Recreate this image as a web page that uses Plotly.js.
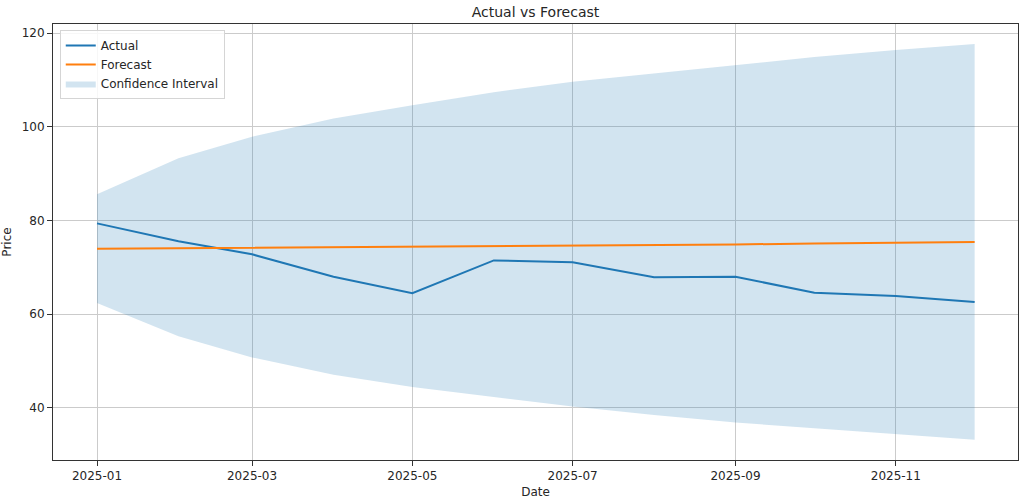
<!DOCTYPE html>
<html>
<head>
<meta charset="utf-8">
<script src="https://cdn.plot.ly/plotly-3.0.1.min.js"></script>
<style>
  html, body { margin: 0; padding: 0; background: #ffffff; }
  #chart { width: 1022px; height: 500px; }
</style>
</head>
<body>
<div id="chart"></div>
<script>
// ---- Data ----
const dates = ['2025-01-01','2025-02-01','2025-03-01','2025-04-01','2025-05-01','2025-06-01',
               '2025-07-01','2025-08-01','2025-09-01','2025-10-01','2025-11-01','2025-12-01'];
const actual   = [79.4, 75.6, 72.8, 68.0, 64.5, 71.5, 71.1, 67.9, 68.0, 64.6, 63.9, 62.6];
const forecast = [74.0, 74.1, 74.2, 74.4, 74.5, 74.6, 74.7, 74.8, 74.9, 75.1, 75.2, 75.4];
const upper    = [85.6, 93.3, 97.9, 101.8, 104.6, 107.4, 109.6, 111.4, 113.3, 114.9, 116.4, 117.7];
const lower    = [62.4, 55.3, 50.8, 47.1, 44.5, 42.3, 40.3, 38.5, 36.9, 35.7, 34.5, 33.2];
const xTickVals = ['2025-01-01','2025-03-01','2025-05-01','2025-07-01','2025-09-01','2025-11-01'];
const xTickText = ['2025-01','2025-03','2025-05','2025-07','2025-09','2025-11'];
const yTickVals = [40, 60, 80, 100, 120];

const FONT = 'DejaVu Sans, sans-serif';
const TXT = '#262626';

const traces = [
  { x: dates, y: lower, type: 'scatter', mode: 'lines',
    line: { width: 0, color: 'rgba(31,119,180,0)' },
    showlegend: false, hoverinfo: 'skip' },
  { x: dates, y: upper, type: 'scatter', mode: 'lines',
    line: { width: 0, color: 'rgba(31,119,180,0)' },
    fill: 'tonexty', fillcolor: 'rgba(31,119,180,0.2)',
    name: 'Confidence Interval', legendrank: 3 },
  { x: dates, y: actual, type: 'scatter', mode: 'lines',
    line: { color: '#1f77b4', width: 2 }, name: 'Actual', legendrank: 1 },
  { x: dates, y: forecast, type: 'scatter', mode: 'lines',
    line: { color: '#ff7f0e', width: 2 }, name: 'Forecast', legendrank: 2 }
];

const layout = {
  width: 1022, height: 500,
  paper_bgcolor: '#ffffff', plot_bgcolor: '#ffffff',
  margin: { l: 53, r: 4, t: 24, b: 40, pad: 0 },
  font: { family: FONT, size: 12, color: TXT },
  title: { text: 'Actual vs Forecast', font: { family: FONT, size: 14, color: TXT },
           x: 0.5, xref: 'paper', xanchor: 'center', y: 0.976, yref: 'container', yanchor: 'middle' },
  xaxis: {
    type: 'date',
    range: ['2024-12-15 06:00', '2025-12-17 12:00'],
    tickmode: 'array', tickvals: xTickVals, ticktext: xTickText,
    ticks: 'outside', ticklen: 5, tickwidth: 1, tickcolor: '#333',
    showline: true, linecolor: '#333', linewidth: 1, mirror: true,
    showgrid: true, gridcolor: '#cbcbcb', gridwidth: 1,
    zeroline: false,
    tickfont: { family: FONT, size: 12, color: TXT },
    title: { text: 'Date', font: { family: FONT, size: 12, color: TXT }, standoff: 5 }
  },
  yaxis: {
    range: [28.9, 121.95],
    tickmode: 'array', tickvals: yTickVals,
    ticks: 'outside', ticklen: 5, tickwidth: 1, tickcolor: '#333',
    showline: true, linecolor: '#333', linewidth: 1, mirror: true,
    showgrid: true, gridcolor: '#cbcbcb', gridwidth: 1,
    zeroline: false,
    tickfont: { family: FONT, size: 12, color: TXT },
    title: { text: 'Price', font: { family: FONT, size: 12, color: TXT }, standoff: 8 }
  },
  legend: {
    x: 0.007, y: 0.986, xanchor: 'left', yanchor: 'top',
    traceorder: 'normal',
    bgcolor: 'rgba(255,255,255,0.85)', bordercolor: '#d5d5d5', borderwidth: 1,
    font: { family: FONT, size: 12, color: TXT },
    tracegroupgap: 0, itemwidth: 30
  },
  showlegend: true
};

Plotly.newPlot('chart', traces, layout, { staticPlot: true, displayModeBar: false });
</script>
</body>
</html>
